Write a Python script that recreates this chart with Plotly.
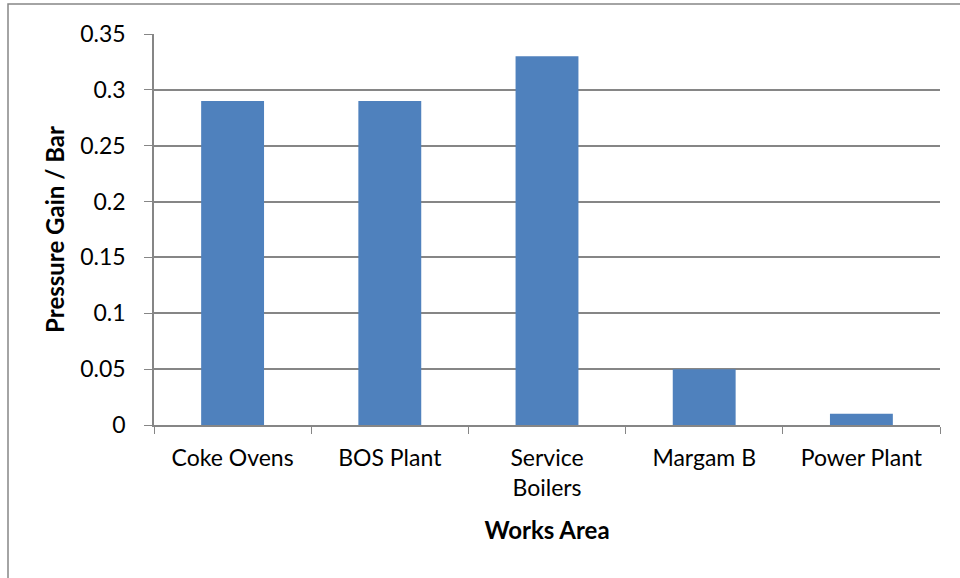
import plotly.graph_objects as go

categories = ["Coke Ovens", "BOS Plant", "Service<br>Boilers", "Margam B", "Power Plant"]
values = [0.29, 0.29, 0.33, 0.05, 0.01]
y_ticks = [0, 0.05, 0.1, 0.15, 0.2, 0.25, 0.3, 0.35]
y_tick_labels = ["0", "0.05", "0.1", "0.15", "0.2", "0.25", "0.3", "0.35"]

W, H = 960, 578
L, R, T, B = 154, 20, 34, 153
pw, ph = W - L - R, H - T - B

def px_x(p):
    return (p - L) / pw

def px_y(p):
    return 1 - (p - T) / ph

fig = go.Figure(go.Bar(
    x=categories, y=values,
    marker=dict(color="#4F81BD", line=dict(width=0)),
    width=0.4,
))

font_family = "Lato, 'Open Sans', sans-serif"
fig.update_layout(
    width=W, height=H,
    margin=dict(l=L, r=R, t=T, b=B),
    paper_bgcolor="white", plot_bgcolor="white",
    showlegend=False,
    font=dict(family=font_family, color="#000000", size=23),
)
fig.update_xaxes(
    showgrid=False, showline=True, linecolor="#868686", linewidth=1.5,
    ticks="outside", tickson="boundaries", ticklen=7, tickcolor="#868686",
    tickfont=dict(size=23), ticklabelstandoff=12,
    title=dict(text="<b>Works Area</b>", font=dict(size=24), standoff=22),
)
fig.update_yaxes(
    range=[0, 0.35], tickvals=y_ticks, ticktext=y_tick_labels,
    showgrid=True, gridcolor="#868686", gridwidth=1.5,
    showline=True, linecolor="#868686", linewidth=1.5,
    ticks="outside", ticklen=8, tickcolor="#868686",
    tickfont=dict(size=23), zeroline=False, ticklabelstandoff=14,
    title=dict(text="<b>Pressure Gain / Bar</b>", font=dict(size=24), standoff=9),
)
fig.add_shape(type="rect", xref="paper", yref="paper",
              x0=px_x(8), x1=px_x(965), y0=px_y(4), y1=px_y(585),
              line=dict(color="#868686", width=1.5), layer="below")
fig.write_html("out.html", config={"displayModeBar": False},
               post_script="document.body.style.margin='0px';")
